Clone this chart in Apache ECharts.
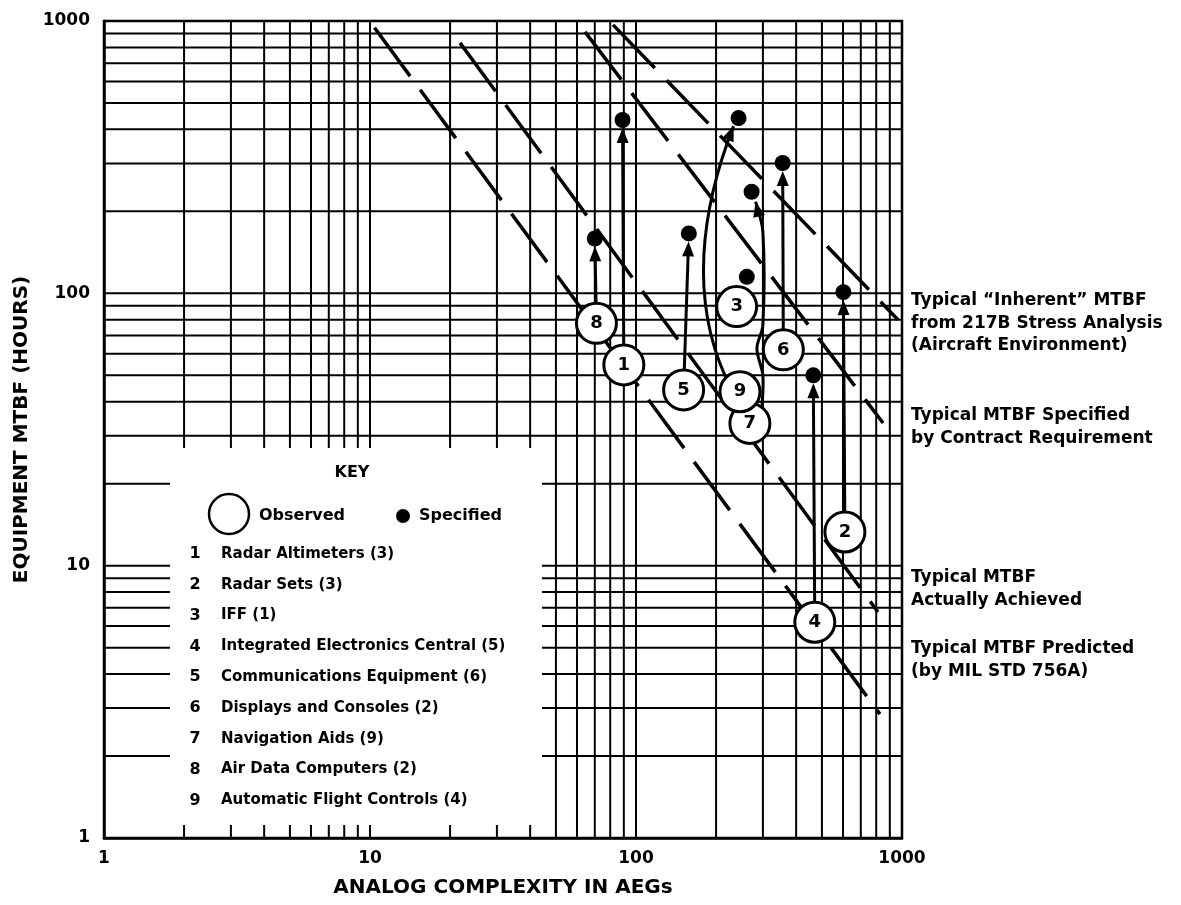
<!DOCTYPE html>
<html>
<head>
<meta charset="utf-8">
<script src="https://cdn.jsdelivr.net/npm/echarts@6/dist/echarts.min.js"></script>
<style>
  html, body { margin: 0; padding: 0; background: #fff; }
  #chart { width: 1181px; height: 905px; }
</style>
</head>
<body>
<div id="chart"></div>
<script>
// equipment types, numbered 1..9 in the key
const equipment = [
  'Radar Altimeters (3)',
  'Radar Sets (3)',
  'IFF (1)',
  'Integrated Electronics Central (5)',
  'Communications Equipment (6)',
  'Displays and Consoles (2)',
  'Navigation Aids (9)',
  'Air Data Computers (2)',
  'Automatic Flight Controls (4)'
];

// observed MTBF (open circles)
const observedAEG  = [90, 610, 239, 470, 151, 358, 268, 71, 246];
const observedMTBF = [54.6, 13.3, 89.4, 6.2, 44.2, 62, 33.3, 77.6, 43.5];

// specified MTBF (black dots)
const specifiedAEG  = [89, 602, 261, 464, 158, 356, 272, 70, 243];
const specifiedMTBF = [433, 101, 115, 50, 166, 301, 236, 159, 440];

// items that have an arrow from observed to specified (3 has none)
const arrowItems = [0, 1, 3, 4, 5, 6, 7, 8];

// typical trend lines, end points
const inherentAEG   = [82, 966];
const inherentMTBF  = [968, 80];
const specifiedLineAEG  = [64.3, 849];
const specifiedLineMTBF = [912, 33.4];
const achievedAEG   = [21.8, 812];
const achievedMTBF  = [831, 6.76];
const predictedAEG  = [10.4, 826];
const predictedMTBF = [944, 2.85];

// log paper rulings
const rulings = [2, 3, 4, 5, 6, 7, 8, 9, 10, 20, 30, 40, 50, 60, 70, 80, 90,
                 100, 200, 300, 400, 500, 600, 700, 800, 900];

const lineLabels = [
  ['Typical \u201cInherent\u201d MTBF', 'from 217B Stress Analysis', '(Aircraft Environment)'],
  ['Typical MTBF Specified', 'by Contract Requirement'],
  ['Typical MTBF', 'Actually Achieved'],
  ['Typical MTBF Predicted', '(by MIL STD 756A)']
];

const FONT = '"DejaVu Sans", "Liberation Sans", sans-serif';

const chart = echarts.init(document.getElementById('chart'));

function pairs(xs, ys) {
  return xs.map((x, i) => [x, ys[i]]);
}

function trend(xs, ys) {
  return {
    type: 'line',
    data: pairs(xs, ys),
    symbol: 'none',
    silent: true,
    z: 6,
    lineStyle: { color: '#000', width: 3.5, type: [60, 17], cap: 'butt' }
  };
}

function head(tip, d) {
  const bx = tip[0] - d[0] * 15, by = tip[1] - d[1] * 15;
  const px = -d[1] * 6, py = d[0] * 6;
  return {
    type: 'polygon',
    shape: { points: [tip, [bx + px, by + py], [bx - px, by - py]] },
    style: { fill: '#000' }
  };
}

function unit(from, to) {
  const dx = to[0] - from[0], dy = to[1] - from[1];
  const len = Math.sqrt(dx * dx + dy * dy) || 1;
  return [dx / len, dy / len];
}

const lineStyle = { stroke: '#000', lineWidth: 3, fill: null };

// graphic: key box, key texts, right-hand labels
const graphics = [
  { type: 'rect', z: 5, silent: true, shape: { x: 170, y: 448, width: 372, height: 377 }, style: { fill: '#fff' } },
  { type: 'text', z: 6, style: { text: 'KEY', x: 352, y: 473, font: 'bold 16px ' + FONT, fill: '#000', align: 'center', verticalAlign: 'middle' } },
  { type: 'circle', z: 6, shape: { cx: 229, cy: 514, r: 20 }, style: { fill: '#fff', stroke: '#000', lineWidth: 2.5 } },
  { type: 'text', z: 6, style: { text: 'Observed', x: 259, y: 516, font: 'bold 16px ' + FONT, fill: '#000', align: 'left', verticalAlign: 'middle' } },
  { type: 'circle', z: 6, shape: { cx: 403, cy: 516, r: 7 }, style: { fill: '#000' } },
  { type: 'text', z: 6, style: { text: 'Specified', x: 419, y: 516, font: 'bold 16px ' + FONT, fill: '#000', align: 'left', verticalAlign: 'middle' } }
];
equipment.forEach((name, i) => {
  const y = 554 + i * 30.8;
  graphics.push({ type: 'text', z: 6, style: { text: String(i + 1), x: 195, y: y, font: 'bold 16px ' + FONT, fill: '#000', align: 'center', verticalAlign: 'middle' } });
  graphics.push({ type: 'text', z: 6, style: { text: name, x: 221, y: y, font: 'bold 15px ' + FONT, fill: '#000', align: 'left', verticalAlign: 'middle' } });
});
const labelTops = [301, 416, 578, 649];
lineLabels.forEach((lines, g) => {
  lines.forEach((t, k) => {
    graphics.push({ type: 'text', z: 6, style: { text: t, x: 911, y: labelTops[g] + k * 22.5, font: 'bold 17px ' + FONT, fill: '#000', align: 'left', verticalAlign: 'middle' } });
  });
});

const option = {
  animation: false,
  backgroundColor: '#fff',
  grid: { left: 104, right: 279, top: 21, bottom: 67, show: true, borderColor: '#000', borderWidth: 2.5, backgroundColor: 'transparent' },
  xAxis: {
    type: 'log', logBase: 10, min: 1, max: 1000,
    name: 'ANALOG COMPLEXITY IN AEGs', nameLocation: 'middle', nameGap: 40,
    nameTextStyle: { color: '#000', fontSize: 20, fontWeight: 'bold', fontFamily: FONT },
    axisLine: { lineStyle: { color: '#000', width: 2.5 } },
    axisTick: { show: false },
    splitLine: { show: false },
    axisLabel: { color: '#000', fontSize: 17, fontWeight: 'bold', fontFamily: FONT, margin: 12, formatter: v => String(v) }
  },
  yAxis: {
    type: 'log', logBase: 10, min: 1, max: 1000,
    name: 'EQUIPMENT MTBF (HOURS)', nameLocation: 'middle', nameGap: 72, nameRotate: 90,
    nameTextStyle: { color: '#000', fontSize: 20, fontWeight: 'bold', fontFamily: FONT },
    axisLine: { lineStyle: { color: '#000', width: 2.5 } },
    axisTick: { show: false },
    splitLine: { show: false },
    axisLabel: { color: '#000', fontSize: 17, fontWeight: 'bold', fontFamily: FONT, margin: 14, formatter: v => String(v) }
  },
  graphic: { elements: graphics },
  series: [
    {
      // log paper rulings, both directions
      type: 'custom',
      silent: true,
      z: 1,
      encode: { x: 0, y: 1 },
      data: rulings.map(v => [v, 1, 0]).concat(rulings.map(v => [1, v, 1])),
      renderItem(params, api) {
        const cs = params.coordSys;
        if (api.value(2) === 0) {
          const x = api.coord([api.value(0), 1])[0];
          return { type: 'line', shape: { x1: x, y1: cs.y, x2: x, y2: cs.y + cs.height }, style: { stroke: '#000', lineWidth: 2 } };
        }
        const y = api.coord([1, api.value(1)])[1];
        return { type: 'line', shape: { x1: cs.x, y1: y, x2: cs.x + cs.width, y2: y }, style: { stroke: '#000', lineWidth: 2 } };
      }
    },
    trend(inherentAEG, inherentMTBF),
    trend(specifiedLineAEG, specifiedLineMTBF),
    trend(achievedAEG, achievedMTBF),
    trend(predictedAEG, predictedMTBF),
    {
      // arrows from observed to specified
      type: 'custom',
      silent: true,
      z: 8,
      encode: { x: [0, 2], y: [1, 3] },
      data: arrowItems.map(i => [observedAEG[i], observedMTBF[i], specifiedAEG[i], specifiedMTBF[i], i]),
      renderItem(params, api) {
        const i = api.value(4);
        const a = api.coord([api.value(0), api.value(1)]);
        const b = api.coord([api.value(2), api.value(3)]);
        if (i === 8) {
          // 9: arc bowing out to the left
          const s = [a[0] - 14, a[1] - 14];
          const t = [b[0] - 5, b[1] + 8];
          const c1 = [s[0] - 36, s[1] - 78];
          const c2 = [t[0] - 33, t[1] + 84];
          return {
            type: 'group',
            children: [
              { type: 'bezierCurve', shape: { x1: s[0], y1: s[1], cpx1: c1[0], cpy1: c1[1], cpx2: c2[0], cpy2: c2[1], x2: t[0], y2: t[1] }, style: lineStyle },
              head(t, unit(c2, t))
            ]
          };
        }
        if (i === 6) {
          // 7: runs up the right of 9 and skirts round 6
          const t = [b[0] + 4, b[1] + 10];
          const pts = [
            [a[0] + 12, a[1] - 16],
            [a[0] + 13, a[1] - 48],
            [a[0] + 7, a[1] - 75],
            [a[0] + 13, a[1] - 98],
            [a[0] + 13, b[1] + 40],
            t
          ];
          return {
            type: 'group',
            children: [
              { type: 'polyline', shape: { points: pts, smooth: 0.3 }, style: lineStyle },
              head(t, unit(pts[4], t))
            ]
          };
        }
        const d = unit(a, b);
        const s = [a[0] + d[0] * 20, a[1] + d[1] * 20];
        const t = [b[0] - d[0] * 8, b[1] - d[1] * 8];
        return {
          type: 'group',
          children: [
            { type: 'line', shape: { x1: s[0], y1: s[1], x2: t[0] - d[0] * 12, y2: t[1] - d[1] * 12 }, style: lineStyle },
            head(t, d)
          ]
        };
      }
    },
    {
      name: 'Observed',
      type: 'scatter',
      z: 10,
      symbol: 'circle',
      symbolSize: 40,
      data: observedAEG.map((x, i) => ({ name: String(i + 1), value: [x, observedMTBF[i]] })),
      itemStyle: { color: '#fff', borderColor: '#000', borderWidth: 3, opacity: 1 },
      label: { show: true, position: 'inside', formatter: '{b}', color: '#000', fontSize: 18, fontWeight: 'bold', fontFamily: FONT },
      emphasis: { disabled: true }
    },
    {
      name: 'Specified',
      type: 'scatter',
      z: 11,
      symbol: 'circle',
      symbolSize: 16,
      data: pairs(specifiedAEG, specifiedMTBF),
      itemStyle: { color: '#000', opacity: 1 },
      emphasis: { disabled: true }
    }
  ]
};

chart.setOption(option);
</script>
</body>
</html>
